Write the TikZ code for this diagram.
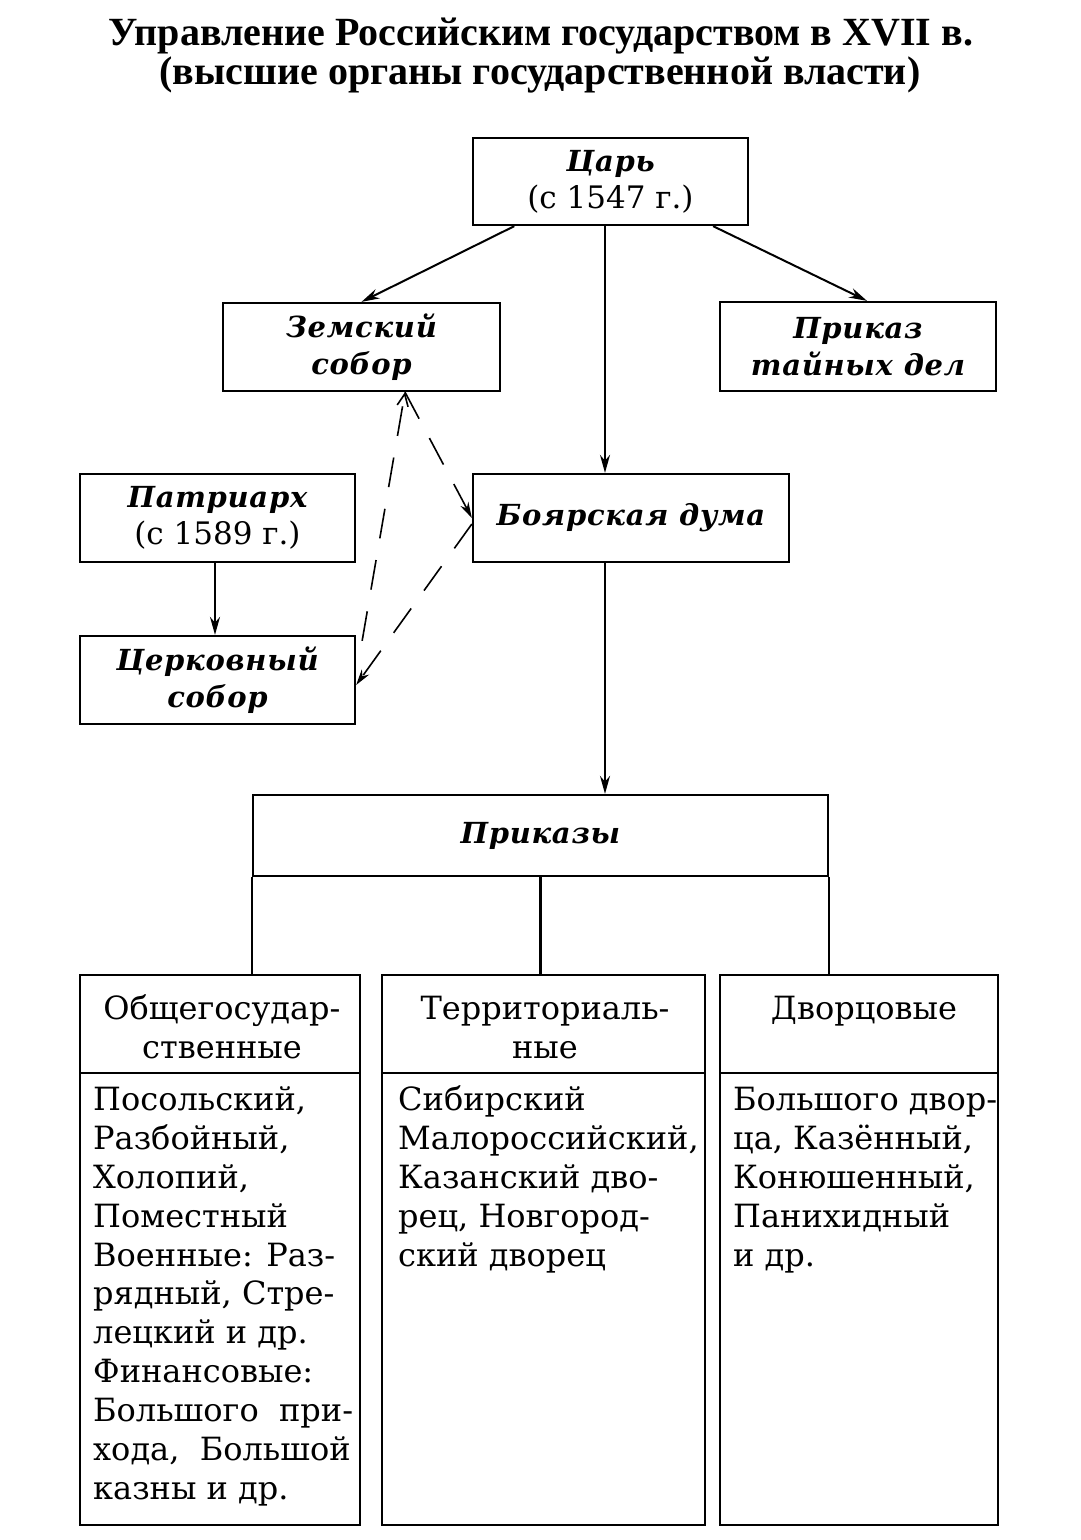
\documentclass[tikz,border=0pt]{standalone}
\usepackage{fontspec}
\setmainfont{DejaVu Serif}
\newfontfamily\titlef{Liberation Serif}
\newfontfamily\labfont[LetterSpace=2.5]{DejaVu Serif}
\usetikzlibrary{arrows.meta,calc}
\newcommand\mylab{\labfont\bfseries\itshape\fontsize{29}{38}\selectfont}
\begin{document}
\begin{tikzpicture}[x=1pt,y=-1pt,
  box/.style={draw,line width=2.3pt,inner sep=0pt,align=center,font=\fontsize{31}{37}\selectfont},
  txt/.style={font=\fontsize{32}{38.9}\selectfont,inner sep=0pt},
  ttl/.style={font=\titlef\bfseries\fontsize{40}{39}\selectfont,inner sep=0pt},
  arr/.style={line width=2pt,-{Stealth[length=18pt,width=10pt]}},
  darr/.style={line width=1.6pt,dash pattern=on 30pt off 22pt,-{Stealth[length=16pt,width=9pt]}},
  oarr/.style={line width=1.6pt,dash pattern=on 30pt off 22pt,-{Straight Barb[length=12pt,width=11pt]}},
  conn/.style={line width=2.3pt}
]
\fill[white] (0,0) rectangle (1080,1540);
\useasboundingbox (0,0) rectangle (1080,1540);

% title
\node[ttl,anchor=base] (t1) at (541,45) {Управление Российским государством в XVII в.};
\node[ttl,anchor=base] (t2) at (540,84) {(высшие органы государственной власти)};

% upper boxes
\node[box,minimum width=275pt,minimum height=87pt] (tsar) at (610.5,181.5) {{\mylab Царь}\\(с 1547 г.)};
\node[box,minimum width=277pt,minimum height=88pt] (zem) at (361.5,347) {\mylab Земский\\\mylab собор};
\node[box,minimum width=276pt,minimum height=89pt] (ptd) at (858,346.5) {\mylab Приказ\\\mylab тайных дел};
\node[box,minimum width=316pt,minimum height=88pt] (duma) at (631,518) {\mylab Боярская дума};
\node[box,minimum width=275pt,minimum height=88pt] (patr) at (217.5,518) {{\mylab Патриарх}\\(с 1589 г.)};
\node[box,minimum width=275pt,minimum height=88pt] (cerk) at (217.5,680) {\mylab Церковный\\\mylab собор};
\node[box,minimum width=575pt,minimum height=81pt] (prik) at (540.5,835.5) {\mylab Приказы};

% lower boxes: headers and bodies
\node[box,minimum width=280pt,minimum height=98pt] (h1) at (220,1024) {};
\node[box,minimum width=323pt,minimum height=98pt] (h2) at (543.5,1024) {};
\node[box,minimum width=278pt,minimum height=98pt] (h3) at (859,1024) {};
\node[box,minimum width=280pt,minimum height=452pt] (b1) at (220,1299) {};
\node[box,minimum width=323pt,minimum height=452pt] (b2) at (543.5,1299) {};
\node[box,minimum width=278pt,minimum height=452pt] (b3) at (859,1299) {};

\node[txt,anchor=north,align=center] (h1t) at (222,992) {\strut Общегосудар-\\ственные};
\node[txt,anchor=north,align=center] (h2t) at (545,992) {\strut Территориаль-\\ные};
\node[txt,anchor=north,align=center] (h3t) at (864,992) {\strut Дворцовые};

\node[txt,anchor=north west,align=left] (b1t) at (93,1083) {\strut Посольский,\\Разбойный,\\Холопий,\\Поместный\\Военные: Раз-\\рядный, Стре-\\лецкий и др.\\Финансовые:\\Большого~~при-\\хода,~~Большой\\казны и др.};
\node[txt,anchor=north west,align=left] (b2t) at (398,1083) {\strut Сибирский\\Малороссийский,\\Казанский дво-\\рец, Новгород-\\ский дворец};
\node[txt,anchor=north west,align=left] (b3t) at (733,1083) {\strut Большого двор-\\ца, Казённый,\\Конюшенный,\\Панихидный\\и др.};

% solid arrows
\draw[arr] ($(tsar.south west)!0.153!(tsar.south east)$) -- (zem.north);
\draw[arr] ($(tsar.south west)!0.87!(tsar.south east)$) -- ([xshift=9pt]ptd.north);
\draw[arr] ([xshift=-5.5pt]tsar.south) -- ([xshift=-5.5pt]tsar.south |- duma.north);
\draw[arr] ([xshift=-5.5pt]tsar.south |- duma.south) -- ([xshift=-5.5pt]tsar.south |- prik.north);
\draw[arr] ([xshift=-2.5pt]patr.south) -- ([xshift=-2.5pt]cerk.north);

% dashed arrows
\coordinate (zd) at ([xshift=43.5pt]zem.south);
\draw[oarr] ([xshift=6pt,yshift=-6pt]cerk.north east) -- (zd);
\draw[darr] (zd) -- (duma.west);
\draw[darr] ([yshift=-6pt]duma.west) -- ([yshift=-5pt]cerk.east);

% connectors from Prikazy to groups
\draw[conn] (prik.south west) -- (prik.south west |- h1.north);
\draw[conn] (prik.south east) -- (prik.south east |- h3.north);
\draw[conn] (prik.south) -- (prik.south |- h2.north);
\end{tikzpicture}
\end{document}
